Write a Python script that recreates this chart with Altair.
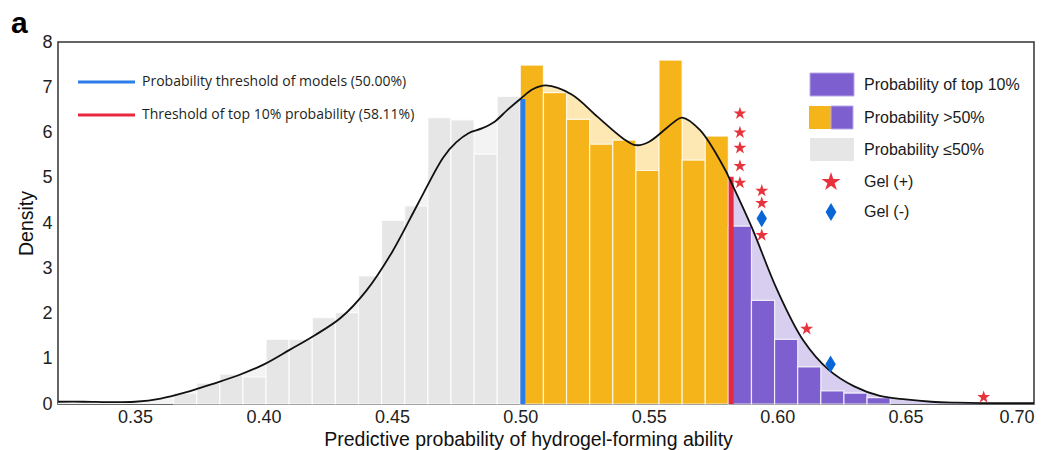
import altair as alt
import pandas as pd

# ---------------- data ----------------
bin_width = 0.009
gray_bin_start = [0.365, 0.374, 0.383, 0.392, 0.401, 0.410, 0.419, 0.428,
                  0.437, 0.446, 0.455, 0.464, 0.473, 0.482, 0.491]
gray_density = [0.24, 0.46, 0.66, 0.60, 1.43, 1.43, 1.91, 2.02,
                2.83, 4.06, 4.38, 6.33, 6.28, 5.52, 6.80]
orange_bin_start = [0.500, 0.509, 0.518, 0.527, 0.536, 0.545, 0.554, 0.563, 0.572]
orange_density = [7.49, 6.88, 6.29, 5.74, 5.83, 5.16, 7.60, 5.39, 5.92]
purple_bin_start = [0.581, 0.590, 0.599, 0.608, 0.617, 0.626, 0.635]
purple_density = [3.93, 2.29, 1.43, 0.82, 0.29, 0.24, 0.14]

kde_x = [0.32, 0.33, 0.34, 0.35, 0.36, 0.37, 0.38, 0.39, 0.40, 0.41, 0.42, 0.43,
         0.44, 0.45, 0.46, 0.47, 0.475, 0.48, 0.485, 0.49, 0.495, 0.50, 0.505,
         0.51, 0.52, 0.53, 0.54, 0.545, 0.55, 0.56, 0.563, 0.57, 0.58, 0.5811,
         0.59, 0.60, 0.61, 0.62, 0.63, 0.64, 0.65, 0.66, 0.67, 0.68, 0.69, 0.70]
kde_y = [0.05, 0.05, 0.04, 0.05, 0.12, 0.26, 0.44, 0.63, 0.87, 1.19, 1.52, 1.90,
         2.50, 3.35, 4.41, 5.45, 5.78, 5.99, 6.09, 6.24, 6.50, 6.74, 6.96,
         7.04, 6.84, 6.35, 5.87, 5.72, 5.79, 6.24, 6.33, 6.05, 5.15, 5.02,
         3.92, 2.52, 1.42, 0.76, 0.39, 0.18, 0.10, 0.05, 0.03, 0.02, 0.02, 0.02]

threshold_model = 0.50
threshold_top10 = 0.5811

gel_pos_x = [0.5855, 0.5855, 0.5855, 0.5855, 0.5855, 0.594, 0.594, 0.594, 0.6115, 0.6804]
gel_pos_y = [6.42, 6.00, 5.66, 5.26, 4.89, 4.71, 4.44, 3.73, 1.66, 0.15]
gel_neg_x = [0.594, 0.6208]
gel_neg_y = [4.10, 0.88]

x_ticks = [0.35, 0.40, 0.45, 0.50, 0.55, 0.60, 0.65, 0.70]
y_ticks = [0, 1, 2, 3, 4, 5, 6, 7, 8]

# ---------------- styles ----------------
C_GRAY, C_GRAY_L = "#e6e6e6", "#f3f3f3"
C_ORANGE, C_ORANGE_L = "#f5b419", "#fde7b3"
C_PURPLE, C_PURPLE_L = "#7e5fcf", "#d8cff0"
C_BLUE, C_RED = "#2b7de9", "#e8283c"
C_STAR, C_DIAMOND = "#e8323c", "#0a66d6"
AX_FONT = "Liberation Sans"
STAR = ("M0,-1L0.225,-0.309L0.951,-0.309L0.363,0.118L0.588,0.809L0,0.382"
        "L-0.588,0.809L-0.363,0.118L-0.951,-0.309L-0.225,-0.309Z")
DIAMOND = "M0,-1L0.6,0L0,1L-0.6,0Z"
CURVE = "catmull-rom"

xs = alt.Scale(domain=[0.32, 0.70], nice=False, zero=False)
ys = alt.Scale(domain=[0, 8], nice=False)
xax = alt.Axis(title="Predictive probability of hydrogel-forming ability",
               values=x_ticks, format=".2f", labelPadding=4, titlePadding=4, titleX=470)
yax = alt.Axis(title="Density", values=y_ticks, labelPadding=6, titlePadding=5)


def X(field):
    return alt.X(field, type="quantitative", scale=xs, axis=xax)


def Y(field):
    return alt.Y(field, type="quantitative", scale=ys, axis=yax)


# ---------------- tables ----------------
rows = []
for grp, starts, dens in [("gray", gray_bin_start, gray_density),
                          ("orange", orange_bin_start, orange_density),
                          ("purple", purple_bin_start, purple_density)]:
    for s, d in zip(starts, dens):
        rows.append({"grp": grp, "start": s, "end": s + bin_width, "density": d, "zero": 0})
bars_df = pd.DataFrame(rows)
kde_df = pd.DataFrame({"x": kde_x, "y": kde_y})
thr_df = pd.DataFrame({
    "x": [threshold_model, threshold_top10],
    "top": [kde_y[kde_x.index(threshold_model)], kde_y[kde_x.index(threshold_top10)]],
    "zero": [0, 0],
    "kind": ["model", "top10"],
})
pos_df = pd.DataFrame({"x": gel_pos_x, "y": gel_pos_y})
neg_df = pd.DataFrame({"x": gel_neg_x, "y": gel_neg_y})
one = pd.DataFrame({"k": [0]})

# ---------------- layers ----------------
areas = []
for filt, col in [("datum.x <= 0.5", C_GRAY_L),
                  ("datum.x >= 0.5 && datum.x <= 0.5811", C_ORANGE_L),
                  ("datum.x >= 0.5811", C_PURPLE_L)]:
    areas.append(
        alt.Chart(kde_df).transform_filter(filt)
        .mark_area(interpolate=CURVE, color=col)
        .encode(x=X("x"), y=Y("y"))
    )

bars = alt.Chart(bars_df).mark_rect(stroke="#ffffff", strokeWidth=1.2, strokeOpacity=0.8).encode(
    x=X("start"), x2="end", y=Y("zero"), y2="density",
    fill=alt.Fill("grp:N", scale=alt.Scale(domain=["gray", "orange", "purple"],
                                            range=[C_GRAY, C_ORANGE, C_PURPLE]), legend=None),
)

thr = alt.Chart(thr_df).mark_rule(strokeWidth=5, xOffset=2.5).encode(
    x=X("x"), y=Y("zero"), y2="top",
    color=alt.Color("kind:N", scale=alt.Scale(domain=["model", "top10"], range=[C_BLUE, C_RED]),
                    legend=None),
)

kde_line = alt.Chart(kde_df).mark_line(interpolate=CURVE, color="#111111", strokeWidth=1.8).encode(
    x=X("x"), y=Y("y"))

stars = alt.Chart(pos_df).mark_point(shape=STAR, filled=True, size=185, color=C_STAR, opacity=1).encode(
    x=X("x"), y=Y("y"))
diamonds = alt.Chart(neg_df).mark_point(shape=DIAMOND, filled=True, size=300, color=C_DIAMOND, opacity=1).encode(
    x=X("x"), y=Y("y"))

# ---------------- hand-made legends ----------------
leg = []
LEG_FONT = "Open Sans"
for yy, col, txt in [(40, C_BLUE, "Probability threshold of models (50.00%)"),
                     (73, C_RED, "Threshold of top 10% probability (58.11%)")]:
    leg.append(alt.Chart(one).mark_rule(color=col, strokeWidth=3).encode(
        x=alt.value(20), x2=alt.value(77), y=alt.value(yy)))
    leg.append(alt.Chart(one).mark_text(align="left", baseline="middle", font=LEG_FONT,
                                        fontSize=14, color="#231f20").encode(
        x=alt.value(84), y=alt.value(yy), text=alt.value(txt)))

leg.append(alt.Chart(one).mark_rect(color=C_PURPLE, stroke="#b9a8ea", strokeWidth=1).encode(
    x=alt.value(752), x2=alt.value(796), y=alt.value(31), y2=alt.value(54)))
leg.append(alt.Chart(one).mark_rect(color=C_ORANGE).encode(
    x=alt.value(751), x2=alt.value(773), y=alt.value(64), y2=alt.value(87)))
leg.append(alt.Chart(one).mark_rect(color=C_PURPLE, stroke="#b9a8ea", strokeWidth=1).encode(
    x=alt.value(773), x2=alt.value(795), y=alt.value(64), y2=alt.value(87)))
leg.append(alt.Chart(one).mark_rect(color=C_GRAY).encode(
    x=alt.value(752), x2=alt.value(796), y=alt.value(96), y2=alt.value(119)))
leg.append(alt.Chart(one).mark_point(shape=STAR, filled=True, size=400, color=C_STAR, opacity=1).encode(
    x=alt.value(773), y=alt.value(140)))
leg.append(alt.Chart(one).mark_point(shape=DIAMOND, filled=True, size=324, color=C_DIAMOND, opacity=1).encode(
    x=alt.value(773), y=alt.value(170)))
for yy, txt in [(43, "Probability of top 10%"), (76, "Probability >50%"),
                (108, "Probability ≤50%"), (140, "Gel (+)"), (170, "Gel (-)")]:
    leg.append(alt.Chart(one).mark_text(align="left", baseline="middle", font=AX_FONT,
                                        fontSize=16, color="#1a1a1a").encode(
        x=alt.value(806), y=alt.value(yy), text=alt.value(txt)))

panel_label = alt.Chart(one).mark_text(align="left", baseline="alphabetic", font=AX_FONT,
                                       fontSize=30, fontWeight="bold", color="#000000").encode(
    x=alt.value(-47), y=alt.value(-9), text=alt.value("a"))

chart = alt.layer(*areas, bars, thr, kde_line, stars, diamonds, *leg, panel_label).properties(
    width=976, height=362,
    padding={"left": 58, "top": 42, "right": 22, "bottom": 46},
    autosize=alt.AutoSizeParams(type="none"),
    background="#ffffff",
).configure_view(
    stroke="#333333", strokeWidth=1.5
).configure_axis(
    labelFont=AX_FONT, labelFontSize=18, labelColor="#222222",
    titleFont=AX_FONT, titleFontSize=19.5, titleFontWeight="normal", titleColor="#111111",
    ticks=False, domain=False, grid=False,
)

chart.save("out.html", embed_options={"renderer": "svg", "actions": False})
